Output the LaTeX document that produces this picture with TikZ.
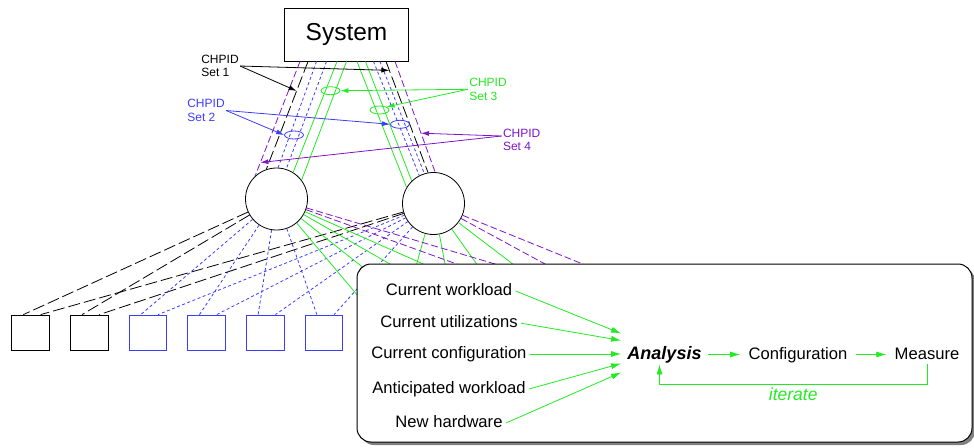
\documentclass[tikz,border=0pt]{standalone}
\usepackage{fontspec}
\setmainfont{Liberation Sans}
\usetikzlibrary{arrows.meta,shapes.geometric,shadows}
\definecolor{chBlue}{RGB}{60,60,255}
\definecolor{chGreen}{RGB}{35,235,35}
\definecolor{chPurple}{RGB}{128,20,200}
\tikzset{
  set1/.style={black,dash pattern=on 12pt off 4pt},
  set2/.style={chBlue,dash pattern=on 3pt off 2.5pt},
  set3/.style={chGreen},
  set4/.style={chPurple,dash pattern=on 7pt off 3pt},
  sysbox/.style={draw,line width=1pt,minimum width=124pt,minimum height=53pt,
    font=\fontsize{24.5}{28}\selectfont},
  hub/.style={draw,circle,fill=white,minimum size=62pt,inner sep=0pt},
  unit/.style={draw,minimum width=37.5pt,minimum height=35pt,inner sep=0pt},
  ring/.style={draw,ellipse,minimum width=19pt,minimum height=8pt,inner sep=0pt},
  tag/.style={align=left,font=\fontsize{12}{13.4}\selectfont,inner sep=1pt},
  pointer/.style={-{Latex[length=8pt,width=5pt]}},
  panel/.style={draw,line width=1pt,rounded corners=14pt,fill=white,
    minimum width=615pt,minimum height=178pt,
    drop shadow={shadow xshift=3pt,shadow yshift=-3pt,fill=black!50,opacity=1}},
  item/.style={font=\fontsize{16.6}{18}\selectfont,text height=12.5pt,text depth=3.5pt,
    inner xsep=3pt,inner ysep=1pt},
  flow/.style={chGreen,-{Latex[length=10pt,width=6pt]}},
}
\begin{document}
\begin{tikzpicture}[x=1pt,y=-1pt,line width=0.8pt]
  \useasboundingbox (0,0) rectangle (974,447);
  \node [sysbox] (S0) at (346.5,34.5) {System};
  \node [hub] (H1) at (276.5,199) {};
  \node [hub] (H2) at (433.5,203.5) {};
  \foreach \k/\c in {1/black,2/black,3/chBlue,4/chBlue,5/chBlue,6/chBlue}
    \node [unit,draw=\c] (U\k) at ({30.5+58.7*(\k-1)},332.5) {};
  \foreach \n/\u in {a1/-46.5,a2/-38.5,a3/-30,a4/-20,a5/-9.5,a6/0,
                     b1/10.5,b2/19,b3/27,b4/33.5,b5/39.5,b6/48.5}
    \coordinate (P\n) at ([xshift=\u pt]S0.south);
  % channel paths from the system to both switches
  \draw [set4] (Pa1) -- coordinate [pos=0.882] (K4a) (H1.133);
  \draw [set1] (Pa2) -- coordinate [pos=0.273] (K1a) (H1.109);
  \draw [set2] (Pa3) -- (H1.87);
  \draw [set2] (Pa4) -- (H1.72);
  \draw [set3] (Pa5) -- (H1.58);
  \draw [set3] (Pa6) -- (H1.37);
  \draw [set3] (Pb1) -- (H2.149);
  \draw [set3] (Pb2) -- (H2.134);
  \draw [set2] (Pb3) -- (H2.117);
  \draw [set2] (Pb4) -- (H2.107);
  \draw [set1] (Pb5) -- coordinate [pos=0.08] (K1b) (H2.100);
  \draw [set4] (Pb6) -- coordinate [pos=0.648] (K4b) (H2.87);
  % switches to control units
  \foreach \k in {1,2} {
    \draw [set1] (H1) -- ([xshift=12pt]U\k.north west);
    \draw [set1] (H2) -- ([xshift=-9pt]U\k.north east);
  }
  \foreach \k in {3,...,6} {
    \draw [set2] (H1) -- ([xshift=12pt]U\k.north west);
    \draw [set2] (H2) -- ([xshift=-9pt]U\k.north east);
  }
  \foreach \n/\a/\b/\s in {1/374/402.5/set3,2/423/454.7/set3,3/479/513/set3,
                           4/538.5/579.5/set3,5/598/639/set4,6/666.5/708.5/set4} {
    \coordinate (Q\n a) at (\a,315);
    \coordinate (Q\n b) at (\b,315);
    \draw [\s] (H1) -- (Q\n a);
    \draw [\s] (H2) -- (Q\n b);
  }
  % set labels
  \node [ring,chGreen] (G1) at (330.5,90.7) {};
  \node [ring,chGreen] (G2) at (379.5,110) {};
  \node [ring,chBlue] (B1) at (294,135) {};
  \node [ring,chBlue] (B2) at (400,124.3) {};
  \node [tag] (T1) at (220,66) {CHPID\\Set 1};
  \node [tag,chBlue] (T2) at (206,110.5) {CHPID\\Set 2};
  \node [tag,chGreen] (T3) at (488,89.3) {CHPID\\Set 3};
  \node [tag,chPurple] (T4) at (521.7,140) {CHPID\\Set 4};
  \draw [pointer] (T1.east) -- (K1b);
  \draw [pointer] (T1.east) -- (K1a);
  \draw [pointer,chBlue] (T2.east) -- (B1.west);
  \draw [pointer,chBlue] (T2.east) -- (B2.west);
  \draw [pointer,chGreen] (T3.west) -- (G1.east);
  \draw [pointer,chGreen] (T3.west) -- (G2.north east);
  \draw [pointer,chPurple] ([yshift=4pt]T4.west) -- (K4b);
  \draw [pointer,chPurple] ([yshift=4pt]T4.west) -- (K4a);
  % analysis panel
  \node [panel] (W0) at (664.5,353) {};
  \node [item] (I1) at (449,291) {Current workload};
  \node [item] (I2) at (449,323.2) {Current utilizations};
  \node [item] (I3) at (449,354) {Current configuration};
  \node [item] (I4) at (449,389) {Anticipated workload};
  \node [item] (I5) at (449,423) {New hardware};
  \node [item,font=\fontsize{18}{20}\selectfont\bfseries\itshape,text height=13pt,
    text depth=4pt,inner xsep=6pt] (A0) at (664.5,354.5) {Analysis};
  \node [item,inner xsep=8pt] (C0) at (798,354.5) {Configuration};
  \node [item,inner xsep=8pt] (M0) at (927,354.5) {Measure};
  \draw [flow] (I1.east) -- ([yshift=21pt]A0.west);
  \draw [flow] (I2.east) -- ([yshift=14pt]A0.west);
  \draw [flow] (I3.east) -- (A0.west |- I3.east);
  \draw [flow] (I4.east) -- ([yshift=-9pt]A0.west);
  \draw [flow] (I5.east) -- ([yshift=-18pt]A0.west);
  \draw [flow] (A0) -- (C0);
  \draw [flow] (C0) -- (M0);
  \draw [flow] (M0.south) -- ++(0,20.5) -| node [pos=0.25,below,inner sep=3pt,
    font=\fontsize{17.5}{20}\selectfont\itshape] {iterate} ([xshift=-5pt]A0.south);
\end{tikzpicture}
\end{document}
